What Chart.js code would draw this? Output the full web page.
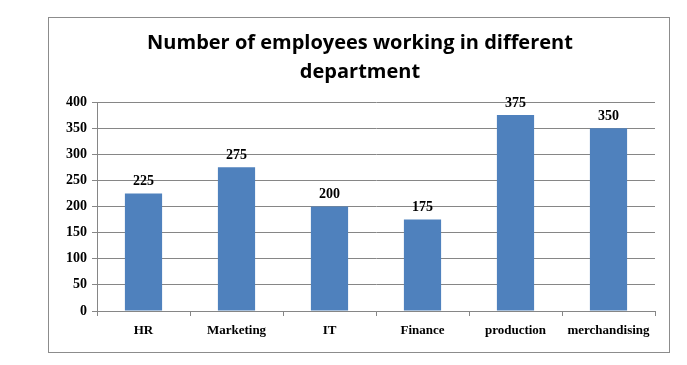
<!DOCTYPE html>
<html>
<head>
<meta charset="utf-8">
<script src="https://cdn.jsdelivr.net/npm/chart.js@4/dist/chart.umd.min.js"></script>
<style>
  html, body { margin: 0; padding: 0; background: #ffffff; }
  #wrap { position: absolute; left: 0; top: 0; width: 687px; height: 365px; }
</style>
</head>
<body>
<div id="wrap"><canvas id="c" width="687" height="365"></canvas></div>
<script>
const categories = ["HR", "Marketing", "IT", "Finance", "production", "merchandising"];
const employees = [225, 275, 200, 175, 375, 350];
const yTicks = [0, 50, 100, 150, 200, 250, 300, 350, 400];
const titleLines = ["Number of employees working in different", "department"];

const frame = {
  id: 'frame',
  beforeDraw(chart) {
    const ctx = chart.ctx;
    ctx.save();
    ctx.fillStyle = '#ffffff';
    ctx.fillRect(0, 0, chart.width, chart.height);
    ctx.strokeStyle = '#8c8c8c';
    ctx.lineWidth = 1;
    ctx.strokeRect(48.5, 17.5, 621, 335);
    ctx.restore();
  }
};

const valueLabels = {
  id: 'valueLabels',
  afterDatasetsDraw(chart) {
    const ctx = chart.ctx;
    const meta = chart.getDatasetMeta(0);
    ctx.save();
    ctx.font = 'bold 14px "Liberation Serif", "Times New Roman", serif';
    ctx.fillStyle = '#000000';
    ctx.textAlign = 'center';
    ctx.textBaseline = 'bottom';
    meta.data.forEach((bar, i) => {
      ctx.fillText(String(chart.data.datasets[0].data[i]), bar.x, bar.y - 5);
    });
    ctx.restore();
  }
};

new Chart(document.getElementById('c'), {
  type: 'bar',
  data: {
    labels: categories,
    datasets: [{
      data: employees,
      backgroundColor: '#4f81bd',
      borderWidth: 0,
      categoryPercentage: 0.8,
      barPercentage: 0.5
    }]
  },
  options: {
    responsive: false,
    animation: false,
    devicePixelRatio: 1,
    layout: { padding: { left: 65, right: 32, top: 0, bottom: 24 } },
    plugins: {
      legend: { display: false },
      tooltip: { enabled: false },
      title: {
        display: true,
        text: titleLines,
        color: '#000000',
        font: { family: '"Open Sans", "Liberation Sans", Arial, sans-serif', size: 20, weight: 'bold', lineHeight: 1.45 },
        padding: { top: 29, bottom: 15 }
      }
    },
    scales: {
      x: {
        afterFit(s) { s.height = 30; },
        grid: { display: true, drawOnChartArea: false, drawTicks: true, tickLength: 5, color: '#868686', offset: true },
        border: { display: true, color: '#868686' },
        ticks: {
          color: '#000000',
          padding: 7,
          maxRotation: 0,
          font: { family: '"Liberation Serif", "Times New Roman", serif', size: 13, weight: 'bold' }
        }
      },
      y: {
        min: 0,
        max: 400,
        afterFit(s) { s.width = 32; },
        afterBuildTicks(s) { s.ticks = yTicks.map(v => ({ value: v })); },
        grid: { color: '#868686', tickLength: 5, drawTicks: true },
        border: { display: true, color: '#868686' },
        ticks: {
          color: '#000000',
          padding: 5,
          font: { family: '"Liberation Serif", "Times New Roman", serif', size: 14, weight: 'bold' }
        }
      }
    }
  },
  plugins: [frame, valueLabels]
});
</script>
</body>
</html>
